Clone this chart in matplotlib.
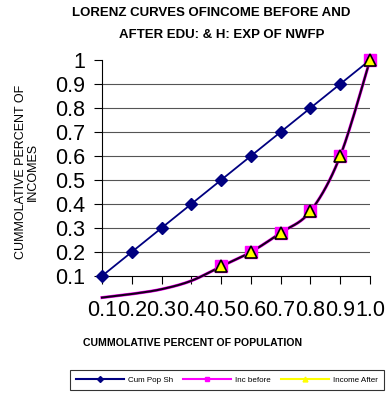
import numpy as np
import matplotlib
matplotlib.use("Agg")
import matplotlib.pyplot as plt
from matplotlib.lines import Line2D

plt.rcParams['font.family'] = ['Liberation Sans', 'DejaVu Sans']

# cumulative population share (x) and the three Lorenz series
pop_labels = ["0.1", "0.2", "0.3", "0.4", "0.5", "0.6", "0.7", "0.8", "0.9", "1.0"]
pop_share = [0.1, 0.2, 0.3, 0.4, 0.5, 0.6, 0.7, 0.8, 0.9, 1.0]
cum_pop_sh = [0.1, 0.2, 0.3, 0.4, 0.5, 0.6, 0.7, 0.8, 0.9, 1.0]
inc_before = [0.01, 0.025, 0.045, 0.08, 0.14, 0.20, 0.28, 0.37, 0.60, 1.00]
income_after = [0.01, 0.025, 0.045, 0.08, 0.14, 0.20, 0.28, 0.37, 0.60, 1.00]
y_ticks = [0.1, 0.2, 0.3, 0.4, 0.5, 0.6, 0.7, 0.8, 0.9, 1.0]
y_labels = ["0.1", "0.2", "0.3", "0.4", "0.5", "0.6", "0.7", "0.8", "0.9", "1"]


def smooth(x, y, n=20):
    # spreadsheet-style smoothed line: cubic bezier through the points
    x = np.asarray(x, float)
    y = np.asarray(y, float)
    px, py = [x[0]], [y[0]]
    t = np.linspace(0, 1, n)[1:]
    for i in range(len(x) - 1):
        i0, i3 = max(i - 1, 0), min(i + 2, len(x) - 1)
        c1 = (x[i] + (x[i + 1] - x[i0]) / 6, y[i] + (y[i + 1] - y[i0]) / 6)
        c2 = (x[i + 1] - (x[i3] - x[i]) / 6, y[i + 1] - (y[i3] - y[i]) / 6)
        for a, b, c, d, out in ((x[i], c1[0], c2[0], x[i + 1], px),
                                (y[i], c1[1], c2[1], y[i + 1], py)):
            out.extend((1 - t) ** 3 * a + 3 * (1 - t) ** 2 * t * b
                       + 3 * (1 - t) * t ** 2 * c + t ** 3 * d)
    return np.array(px), np.array(py)


fig = plt.figure(figsize=(3.9, 3.94), dpi=100)
ax = fig.add_axes([0.2615, 0.2995, 0.6872, 0.5482])

ax.plot(pop_share, cum_pop_sh, color='#000080', lw=1.3, marker='D', ms=6,
        mfc='#000080', mec='#000080', clip_on=False, zorder=4)

sx, sy = smooth(pop_share, inc_before)
ax.plot(sx, sy, color='#FF00FF', lw=2.2, clip_on=False, zorder=3)
sx2, sy2 = smooth(pop_share, income_after)
ax.plot(sx2, sy2, color='#14001a', lw=1.5, clip_on=False, zorder=3.5)

# markers only where the value lies inside the plot range
bx = [x for x, v in zip(pop_share, inc_before) if v >= 0.1]
bv = [v for v in inc_before if v >= 0.1]
ax.plot(bx, bv, ls='none', marker='s', ms=8, mfc='#FF00FF', mec='#FF00FF',
        clip_on=False, zorder=5)
ax_ = [x for x, v in zip(pop_share, income_after) if v >= 0.1]
av = [v for v in income_after if v >= 0.1]
ax.plot(ax_, av, ls='none', marker='^', ms=8, mfc='#FFFF00', mec='black',
        mew=1.2, clip_on=False, zorder=6)

ax.set_xlim(0.1, 1.0)
ax.set_ylim(0.1, 1.0)
ax.set_xticks(pop_share)
ax.set_xticklabels(pop_labels, fontsize=15.5)
ax.set_yticks(y_ticks)
ax.set_yticklabels(y_labels, fontsize=15.5)
ax.tick_params(axis='both', direction='out', length=6, width=0.8)
ax.tick_params(axis='x', pad=11)
ax.tick_params(axis='y', pad=6)
for sp in ('top', 'right'):
    ax.spines[sp].set_visible(False)
for sp in ('left', 'bottom'):
    ax.spines[sp].set_linewidth(0.8)
for v in y_ticks[1:-1]:
    ax.axhline(v, color='#555555', lw=0.8, zorder=1)

fig.text(0.541, 0.968, "LORENZ CURVES OFINCOME BEFORE AND", ha='center', va='center',
         fontsize=9.5, fontweight='bold')
fig.text(0.569, 0.910, "AFTER EDU: & H: EXP OF NWFP", ha='center', va='center',
         fontsize=9.5, fontweight='bold')
fig.text(0.068, 0.563, "CUMMOLATIVE PERCENT OF\nINCOMES", rotation=90, ha='center',
         va='center', fontsize=9, linespacing=1.0)
fig.text(0.495, 0.129, "CUMMOLATIVE PERCENT OF POPULATION", ha='center', va='center',
         fontsize=7.6, fontweight='bold')

handles = [
    Line2D([], [], color='#000080', lw=1.5, marker='D', ms=3, mfc='#000080'),
    Line2D([], [], color='#FF00FF', lw=1.5, marker='s', ms=3, mfc='#FF00FF'),
    Line2D([], [], color='#FFFF00', lw=1.5, marker='^', ms=3.5, mfc='#FFFF00'),
]
leg = fig.legend(handles, ['Cum Pop Sh', 'Inc before', 'Income After'],
                 loc='center', bbox_to_anchor=(0.582, 0.0355), ncol=3, fontsize=5.8,
                 handlelength=6, handletextpad=0.5, columnspacing=1.2,
                 frameon=True, fancybox=False, edgecolor='black', borderpad=0.75)
leg.get_frame().set_linewidth(0.8)

fig.savefig("out.png", dpi=100)
